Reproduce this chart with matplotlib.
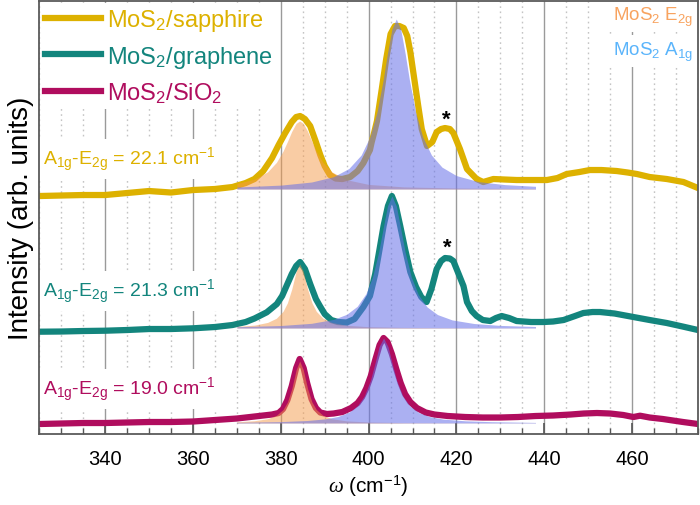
import matplotlib
matplotlib.use('Agg')
import matplotlib.pyplot as plt
from matplotlib.ticker import MultipleLocator

plt.rcParams['font.family'] = ['Liberation Sans', 'DejaVu Sans']
plt.rcParams['mathtext.fontset'] = 'custom'
plt.rcParams['mathtext.rm'] = 'Liberation Sans'
plt.rcParams['mathtext.it'] = 'Liberation Serif:italic'
plt.rcParams['mathtext.default'] = 'regular'

#---------------------------- measured spectra (offset, arb. units)
sapphire_x = [325, 330, 335, 340, 345, 350, 355, 360, 365, 369, 372, 374, 376, 378, 379.5, 381, 382.5, 383.5,
              384.4, 385.5, 386.7, 388, 389, 390, 391.2, 392.5, 394, 395.8, 397.5, 398.8, 399.6, 400.3, 400.7,
              401.3, 401.9, 403, 404, 405, 406, 407, 408, 408.8, 409.5, 410.3, 411.3, 412.1, 413.3, 414.5,
              415.5, 416.5, 417.4, 418.5, 419.3, 420.8, 422.4, 424.6, 426.1, 428.4, 431, 433.7, 437, 440.6, 443,
              445.1, 448, 450.4, 453, 456.5, 459, 461.1, 464, 467.9, 471.7, 475]
sapphire_y = [238, 238.5, 239, 239, 241, 243, 241.5, 244, 245, 247, 251, 255, 263, 276, 289, 301, 312, 317,
              318, 315, 308, 292, 279, 268, 259, 255.5, 255, 257, 263, 271, 278, 284, 292,
              302, 313, 345, 375, 400, 408, 408, 406, 398, 382, 358, 328, 305, 288, 292,
              302, 305, 306, 305, 301, 285, 265, 255, 252, 255, 254.5, 254, 254, 254, 256,
              260, 262, 264, 264, 263, 261.5, 260, 257, 255, 252, 246]

graphene_x = [325, 330, 335, 340, 345, 350, 355, 360, 365, 369, 372, 374, 376.8, 379.1, 380.3, 381.3, 382.5,
              383.5, 384.4, 385.5, 386.7, 388, 388.9, 390, 391.5, 393, 395, 396.8, 398.8, 400.3, 401.5, 402.5,
              403.4, 404.4, 405.3, 406.2, 407.2, 408.3, 409.5, 410.8, 412, 413.2, 414.3, 415.5, 416.5, 417.4,
              418.5, 419.3, 420.5, 421.6, 422.4, 423.5, 424.6, 426, 427.7, 429, 430.3, 432, 433.7, 437, 439.8,
              442, 444.4, 447, 448.9, 451, 452.7, 456, 460.3, 464, 467.9, 471.5, 475]
graphene_y = [102.3, 102.5, 103, 103.3, 104, 105, 105, 105.7, 107, 109, 112, 115.5, 121.7, 130, 138, 148, 160,
              168, 172, 165, 150, 135, 128, 120, 114, 112, 111.5, 115, 127, 138, 160, 185,
              208, 228, 238, 228, 208, 185, 162, 147, 137, 132, 145, 165, 173, 176,
              175.5, 173, 160, 148, 132, 123, 118, 114, 113, 116, 118, 116, 113, 112, 112,
              112.5, 114, 118, 121, 122, 122, 120.5, 117, 114, 111, 107.5, 104]

sio2_x = [325, 330, 335, 340, 345, 350, 355, 360, 365, 370, 373, 376, 378, 379.5, 380.5, 381.5, 382.5, 383.5,
          384.3, 385.2, 386, 387, 388, 389, 390.5, 392, 394, 396, 397.5, 398.5, 399.5, 400.5, 401.5, 402.5,
          403.4, 404.3, 405.3, 406.3, 407.3, 408.3, 409.5, 411, 413, 415, 418, 422, 426, 430, 434, 438,
          442, 446, 449, 452, 455, 458, 460.3, 461.8, 464, 467, 471.6, 475]
sio2_y = [10, 10.5, 11, 11, 11.5, 12, 12, 12.5, 14, 15.5, 17, 18.5, 19.5, 21, 25, 34, 48, 66,
          75, 66, 51, 35, 26, 21.5, 20, 20.5, 22, 26, 31, 37, 46, 58, 74, 89,
          96, 92, 80, 65, 51, 40, 32, 26, 21.5, 19.5, 18, 17, 16.5, 16.5, 17, 18,
          18.5, 19.5, 20.5, 21, 20.5, 19, 17, 18.3, 16.5, 15, 12, 10]

#---------------------------- fitted peaks (height above each baseline)
base_sapphire = 245
base_graphene = 106
base_sio2 = 11

e2g_x = [370, 374, 377, 379, 380.5, 381.5, 382.5, 383.5, 384.3, 385.1, 386.1, 387.1, 388.1, 389.6, 391.6, 395,
         400, 408, 420, 438]
sapphire_e2g = [5.5, 9.9, 17.2, 26.6, 37.8, 47.4, 57.7, 65.7, 68, 65.7, 57.7, 47.4, 37.8, 26.6, 17.2, 9.3,
                4.6, 2.1, 1.0, 0.4]
graphene_e2g = [1.6, 2.9, 5.6, 9.8, 16.6, 25.1, 39.0, 56.8, 64, 56.8, 39.0, 25.1, 16.6, 9.8, 5.6, 2.7,
                1.3, 0.6, 0.3, 0.1]
sio2_e2g = [1.2, 2.3, 4.3, 7.7, 13.4, 20.9, 34.3, 53.4, 62, 53.4, 34.3, 20.9, 13.4, 7.7, 4.3, 2.1,
            1.0, 0.4, 0.2, 0.1]

sapphire_a1g_x = [370, 380, 387, 392, 395.5, 398.3, 400.3, 401.9, 403.3, 404.3, 405.3, 406.3, 407.3, 408.3,
                  409.3, 410.7, 412.3, 414.3, 416.7, 420, 425, 431, 438]
sapphire_a1g = [2.0, 3.9, 7.0, 12.3, 20.5, 34.0, 52.3, 76.9, 108.8, 136, 160, 170, 160, 136,
                108.8, 76.9, 52.3, 34.0, 21.9, 13.4, 7.4, 4.4, 2.7]
graphene_a1g_x = [370, 380, 387, 392, 395, 397.4, 399.4, 400.9, 402.3, 403.3, 404.3, 405.3, 406.3, 407.3,
                  408.3, 409.7, 411.3, 413.3, 415.7, 419, 424, 430, 438]
graphene_a1g = [1.3, 2.5, 4.7, 8.6, 13.7, 21.7, 34.4, 51.2, 76.1, 99.5, 122.0, 132, 122.0, 99.5,
                76.1, 51.2, 33.5, 21.1, 13.4, 8.1, 4.5, 2.6, 1.5]
sio2_a1g_x = [370, 380, 386, 390, 393, 395.5, 397.5, 399, 400.4, 401.4, 402.4, 403.4, 404.4, 405.4,
              406.4, 407.8, 409.4, 411.4, 413.8, 417, 422, 428, 438]
sio2_a1g = [0.7, 1.4, 2.5, 4.1, 6.5, 10.7, 17.5, 27.0, 42.5, 58.9, 76.5, 85, 76.5, 58.9,
            42.5, 27.0, 17.0, 10.5, 6.5, 3.9, 2.2, 1.3, 0.6]

splits = ['22.1', '21.3', '19.0']
label_y = [275, 143, 45]
star_pos = [(417.8, 315), (418.0, 187)]

c_sapphire = '#DDB100'
c_graphene = '#13857D'
c_sio2 = '#B00D5E'
c_e2g = '#F59A4A'
c_a1g = '#6670E8'

#----------------------------
fig = plt.figure(figsize=(7.0, 5.06), dpi=100)
ax = fig.add_axes([0.0561, 0.1403, 0.941, 0.8557])

ax.plot(sapphire_x, sapphire_y, color=c_sapphire, lw=4.5, label='MoS$_2$/sapphire', zorder=2,
        solid_joinstyle='round')
ax.plot(graphene_x, graphene_y, color=c_graphene, lw=4.5, label='MoS$_2$/graphene', zorder=2,
        solid_joinstyle='round')
ax.plot(sio2_x, sio2_y, color=c_sio2, lw=4.5, label='MoS$_2$/SiO$_2$', zorder=2,
        solid_joinstyle='round')

for base, h in [(base_sapphire, sapphire_e2g), (base_graphene, graphene_e2g), (base_sio2, sio2_e2g)]:
    ax.fill_between(e2g_x, base, [base + v for v in h], color=c_e2g, alpha=0.5, lw=0, zorder=3)
for base, xs, h in [(base_sapphire, sapphire_a1g_x, sapphire_a1g),
                    (base_graphene, graphene_a1g_x, graphene_a1g),
                    (base_sio2, sio2_a1g_x, sio2_a1g)]:
    ax.fill_between(xs, base, [base + v for v in h], color=c_a1g, alpha=0.55, lw=0, zorder=3)

for s, y, c in zip(splits, label_y, [c_sapphire, c_graphene, c_sio2]):
    ax.text(325.8, y, 'A$_{1g}$-E$_{2g}$ = ' + s + ' cm$^{-1}$', color=c, fontsize=14, va='center',
            ha='left', zorder=1, bbox=dict(facecolor='white', edgecolor='none', pad=4))

for sx, sy in star_pos:
    ax.text(sx, sy, '*', fontsize=16, fontweight='bold', ha='center', va='center', zorder=4)

ax.text(474, 418, 'MoS$_2$ E$_{2g}$', color='#F8A35F', fontsize=13.5, ha='right', va='center', zorder=1,
        bbox=dict(facecolor='white', edgecolor='none', pad=3))
ax.text(474, 383, 'MoS$_2$ A$_{1g}$', color='#5AB4FB', fontsize=13.5, ha='right', va='center', zorder=1,
        bbox=dict(facecolor='white', edgecolor='none', pad=3))

leg = ax.legend(loc='upper left', bbox_to_anchor=(0, 1), borderaxespad=0.1, borderpad=0.15, fontsize=17,
                handlelength=2.35, handletextpad=0.25, labelspacing=0.45, labelcolor='linecolor',
                frameon=True, fancybox=False, facecolor='white', edgecolor='none', framealpha=1)
leg.set_zorder(1)

ax.set_xlim(325, 475)
ax.set_ylim(0, 433)
ax.xaxis.set_major_locator(MultipleLocator(20))
ax.xaxis.set_minor_locator(MultipleLocator(5))
ax.set_yticks([])
ax.set_axisbelow(True)
ax.grid(axis='x', which='major', color='#9a9a9a', lw=1.0, ls='-')
ax.grid(axis='x', which='minor', color='#c4c4c4', lw=1.0, ls=(0, (1.2, 2.5)))
ax.tick_params(axis='x', which='major', direction='in', length=8, width=1.2, labelsize=14.5, pad=11,
               color='#555555')
ax.tick_params(axis='x', which='minor', direction='in', length=4, width=1.0, color='#555555')
for sp in ax.spines.values():
    sp.set_color('#5a5a5a')
    sp.set_linewidth(1.3)

ax.set_xlabel(r'$\mathit{\omega}$ (cm$^{-1}$)', fontsize=15, labelpad=3)
ax.set_ylabel('Intensity (arb. units)', fontsize=20, labelpad=4)

plt.savefig('out.png', dpi=100)
